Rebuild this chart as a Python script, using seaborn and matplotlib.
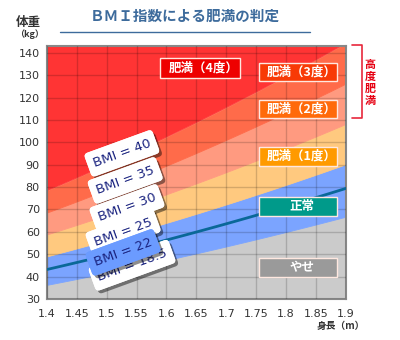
import numpy as np
import pandas as pd
import matplotlib
matplotlib.use("Agg")
import matplotlib.pyplot as plt
import matplotlib.patheffects as pe
from matplotlib.patches import Rectangle
from matplotlib.lines import Line2D
import seaborn as sns

# BMI category boundaries and the standard-weight BMI
bmi_bounds = [18.5, 25, 30, 35, 40]
bmi_standard = 22
band_colors = ["#cbcbcb", "#7ba4ff", "#ffc97f", "#ff9a80", "#ff6b4a", "#ff3434"]

# BMI labels drawn on the chart (22 is the standard line)
label_bmis = ["40", "35", "30", "25", "18.5", "22"]

# category boxes on the right
category_labels = ["肥満（4度）", "肥満（3度）", "肥満（2度）", "肥満（1度）", "正常", "やせ"]
category_colors = ["#ee0000", "#f83a06", "#ff6a0a", "#ff9a00", "#009a8a", "#9a9a9a"]

x_ticks = [1.4, 1.45, 1.5, 1.55, 1.6, 1.65, 1.7, 1.75, 1.8, 1.85, 1.9]
x_tick_labels = ["1.4", "1.45", "1.5", "1.55", "1.6", "1.65", "1.7", "1.75", "1.8", "1.85", "1.9"]
y_ticks = [30, 40, 50, 60, 70, 80, 90, 100, 110, 120, 130, 140]

sns.set_theme(style="white")
plt.rcParams["font.family"] = ["DejaVu Sans", "Noto Sans CJK JP"]
JP = ["Noto Sans CJK JP", "DejaVu Sans"]

fig = plt.figure(figsize=(4, 3.4), dpi=100)
ax = fig.add_axes([0.117, 0.121, 0.748, 0.743])

heights = np.linspace(1.4, 1.9, 101)
lower = [0] + bmi_bounds
upper = bmi_bounds + [200]
for lo, hi, col in zip(lower, upper, band_colors):
    ax.fill_between(heights, lo * heights ** 2, hi * heights ** 2,
                    facecolor=col, edgecolor=col, lw=0.6, zorder=1)

std = pd.DataFrame({"height": heights, "weight": bmi_standard * heights ** 2})
sns.lineplot(data=std, x="height", y="weight", ax=ax, color="#0a6898",
             lw=2, zorder=3)

ax.set_xlim(1.4, 1.9)
ax.set_ylim(30, 143)
ax.set_xticks(x_ticks)
ax.set_xticklabels(x_tick_labels)
ax.set_yticks(y_ticks)
ax.set_xlabel("")
ax.set_ylabel("")
ax.tick_params(axis="both", length=0, labelsize=8, colors="#333333")
ax.tick_params(axis="y", pad=5)
ax.tick_params(axis="x", pad=7)
ax.set_axisbelow(False)
ax.grid(True, color="black", alpha=0.17, lw=1)
for s in ax.spines.values():
    s.set_color("#888888")
    s.set_linewidth(1.5)

# tilted BMI labels (axes-fraction centres)
label_pos = [(0.251, 0.576), (0.262, 0.469), (0.268, 0.362),
             (0.255, 0.263), (0.285, 0.133), (0.255, 0.184)]
for val, (fx, fy) in zip(label_bmis, label_pos):
    fc = "#6b9bff" if val == str(bmi_standard) else "white"
    t = ax.text(fx, fy, f"BMI = {val}", transform=ax.transAxes,
                rotation=20, rotation_mode="anchor", ha="center", va="center",
                fontsize=9.5, color="#1b2480", zorder=6,
                bbox=dict(boxstyle="round,pad=0.45,rounding_size=0.3",
                          fc=fc, ec="none"))
    t.get_bbox_patch().set_path_effects(
        [pe.withSimplePatchShadow(offset=(2, -2), shadow_rgbFace="black", alpha=0.45),
         pe.Normal()])

# category boxes (axes fractions: x0, x1, y0, y1)
box_pos = [(0.378, 0.646, 0.874, 0.953),
           (0.709, 0.970, 0.862, 0.934),
           (0.709, 0.970, 0.715, 0.787),
           (0.709, 0.970, 0.526, 0.601),
           (0.709, 0.970, 0.328, 0.403),
           (0.709, 0.970, 0.087, 0.162)]
for text, col, (x0, x1, y0, y1) in zip(category_labels, category_colors, box_pos):
    ax.add_patch(Rectangle((x0, y0), x1 - x0, y1 - y0, transform=ax.transAxes,
                           fc=col, ec="#ffe8e0", lw=1, zorder=7))
    ax.text((x0 + x1) / 2 + 0.012, (y0 + y1) / 2, text, transform=ax.transAxes,
            ha="center", va="center", fontsize=9, color="white",
            fontweight="bold", family=JP, zorder=8)

# title and underline
fig.text(0.4625, 0.953, "ＢＭＩ指数による肥満の判定", ha="center", va="center",
         fontsize=10.5, fontweight="bold", color="#3d6b9c", family=JP)
fig.add_artist(Line2D([0.15, 0.775], [0.906, 0.906], transform=fig.transFigure,
                      color="#3d6b9c", lw=1))

# axis captions
fig.text(0.07, 0.935, "体重", ha="center", va="center", fontsize=9,
         fontweight="bold", color="#333333", family=JP)
fig.text(0.0725, 0.9, "（kg）", ha="center", va="center", fontsize=6.5,
         fontweight="bold", color="#333333", family=JP)
fig.text(0.8525, 0.041, "身長（m）", ha="center", va="center", fontsize=7,
         fontweight="bold", color="#333333", family=JP)

# bracket for severe obesity
br = "#e8283c"
fig.add_artist(Line2D([0.88, 0.904, 0.904, 0.88], [0.868, 0.868, 0.653, 0.653],
                      transform=fig.transFigure, color=br, lw=1.2))
fig.text(0.926, 0.757, "高\n度\n肥\n満", ha="center", va="center", fontsize=8,
         fontweight="bold", color="#e60012", family=JP, linespacing=0.9)

fig.savefig("out.png", dpi=100)
